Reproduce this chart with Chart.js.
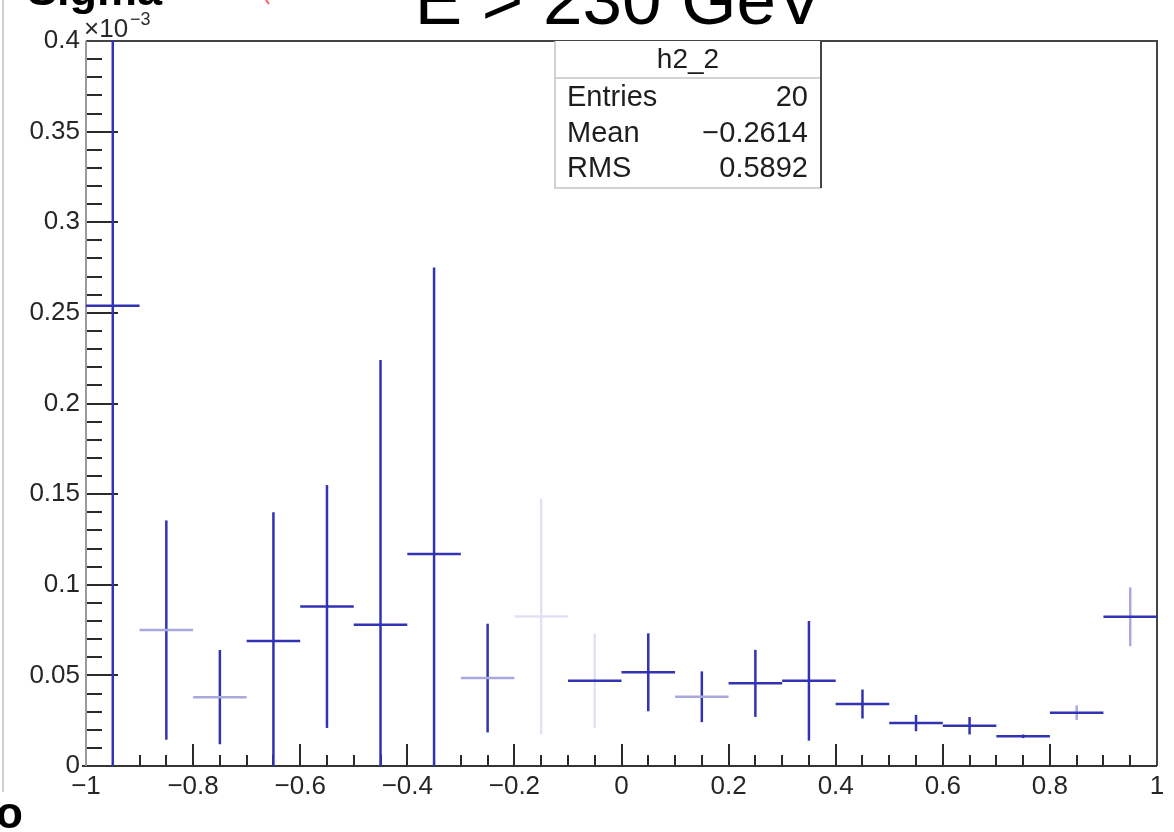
<!DOCTYPE html>
<html>
<head>
<meta charset="utf-8">
<script src="https://cdn.jsdelivr.net/npm/chart.js@4/dist/chart.umd.min.js"></script>
<style>
html,body{margin:0;padding:0;background:#fff;overflow:hidden}
canvas{display:block}
</style>
</head>
<body>
<canvas id="c" width="1174" height="832"></canvas>
<script>
// ---- data (y values in units of 1e-3) ----
const binEdges   = [-1,-0.9,-0.8,-0.7,-0.6,-0.5,-0.4,-0.3,-0.2,-0.1,0,0.1,0.2,0.3,0.4,0.5,0.6,0.7,0.8,0.9,1];
const binCenters = [-0.95,-0.85,-0.75,-0.65,-0.55,-0.45,-0.35,-0.25,-0.15,-0.05,0.05,0.15,0.25,0.35,0.45,0.55,0.65,0.75,0.85,0.95];
const values     = [0.254,0.075,0.038,0.069,0.088,0.078,0.117,0.0485,0.0825,0.047,0.0517,0.0382,0.0456,0.047,0.0342,0.0237,0.0222,0.0164,0.0294,0.0823];
const errors     = [0.30,0.0605,0.026,0.071,0.067,0.146,0.158,0.030,0.065,0.026,0.0215,0.014,0.0185,0.033,0.008,0.0045,0.0048,0.001,0.004,0.0162];
const xTickValues = [-1,-0.8,-0.6,-0.4,-0.2,0,0.2,0.4,0.6,0.8,1];
const xTickLabels = ['\u22121','\u22120.8','\u22120.6','\u22120.4','\u22120.2','0','0.2','0.4','0.6','0.8','1'];
const yTickValues = [0,0.05,0.1,0.15,0.2,0.25,0.3,0.35,0.4];
const yTickLabels = ['0','0.05','0.1','0.15','0.2','0.25','0.3','0.35','0.4'];
const statsTitle = 'h2_2';
const statsNames  = ['Entries','Mean','RMS'];
const statsValues = ['20','\u22120.2614','0.5892'];
const titleText = 'E > 230 GeV';
const yTitleText = 'Sigma';

// ---- style (kept apart from data): rendering intensity of each bin's strokes ----
const hStroke = ['s','f','f','s','s','s','s','f','g','s','s','f','s','s','s','s','s','s','s','s'];
const vStroke = ['s','s','s','s','s','s','s','s','g','g','s','s','s','s','s','s','s','s','f','f'];
const strokeColor = {s:'#3232b4', f:'#a9a9de', g:'#e1e1f4'};

const FONT = '"Liberation Sans", Arial, Helvetica, sans-serif';

const rootPlugin = {
  id: 'rootLook',
  beforeDatasetsDraw(chart) {
    const {ctx, chartArea: a, scales: {x, y}} = chart;
    ctx.save();
    ctx.strokeStyle = '#2a2a2a';
    ctx.lineWidth = 2;
    for (let i = 0; i <= 40; i++) {
      const py = Math.round(y.getPixelForValue(i * 0.01));
      const len = (i % 5 === 0) ? 32 : 16;
      ctx.beginPath(); ctx.moveTo(a.left, py); ctx.lineTo(a.left + len, py); ctx.stroke();
    }
    for (let i = 0; i <= 40; i++) {
      const px = Math.round(x.getPixelForValue(-1 + i * 0.05));
      const len = (i % 4 === 0) ? 22 : 11;
      ctx.beginPath(); ctx.moveTo(px, a.bottom); ctx.lineTo(px, a.bottom - len); ctx.stroke();
    }
    ctx.strokeStyle = '#444';
    ctx.lineWidth = 2;
    ctx.beginPath(); ctx.moveTo(a.left, a.top); ctx.lineTo(a.right, a.top); ctx.lineTo(a.right, a.bottom); ctx.stroke();
    ctx.strokeStyle = '#333';
    ctx.beginPath(); ctx.moveTo(a.left - 4, a.bottom); ctx.lineTo(a.right, a.bottom); ctx.stroke();
    ctx.strokeStyle = '#9a9a9a';
    ctx.beginPath(); ctx.moveTo(a.left, a.top); ctx.lineTo(a.left, a.bottom); ctx.stroke();
    ctx.restore();
  },
  afterDatasetsDraw(chart) {
    const {ctx, chartArea: a, scales: {x, y}} = chart;
    ctx.save();
    ctx.beginPath(); ctx.rect(a.left, a.top - 1, a.right - a.left, a.bottom - a.top + 1); ctx.clip();
    ctx.lineWidth = 2.5;
    for (let i = 0; i < values.length; i++) {
      const cx = x.getPixelForValue(binCenters[i]);
      const x0 = x.getPixelForValue(binEdges[i]);
      const x1 = x.getPixelForValue(binEdges[i + 1]);
      const py = y.getPixelForValue(values[i]);
      const yt = y.getPixelForValue(values[i] + errors[i]);
      const yb = y.getPixelForValue(Math.max(0, values[i] - errors[i]));
      ctx.strokeStyle = strokeColor[vStroke[i]];
      ctx.beginPath(); ctx.moveTo(cx, yt); ctx.lineTo(cx, yb); ctx.stroke();
      ctx.strokeStyle = strokeColor[hStroke[i]];
      ctx.beginPath(); ctx.moveTo(x0, py); ctx.lineTo(x1, py); ctx.stroke();
    }
    ctx.restore();
  },
  afterDraw(chart) {
    const {ctx, chartArea: a} = chart;
    ctx.save();
    ctx.strokeStyle = '#cfcfcf'; ctx.lineWidth = 2;
    ctx.beginPath(); ctx.moveTo(3, 0); ctx.lineTo(3, 792); ctx.stroke();
    ctx.strokeStyle = '#ff5a5a'; ctx.lineWidth = 2;
    ctx.beginPath(); ctx.moveTo(266, 0); ctx.lineTo(269, 4); ctx.stroke();

    // stats box
    const bx0 = 555, bx1 = 821, by0 = a.top, by1 = 188;
    ctx.fillStyle = '#fff';
    ctx.fillRect(bx0, by0, bx1 - bx0, by1 - by0);
    ctx.strokeStyle = '#c4c4c4'; ctx.lineWidth = 1.5;
    ctx.beginPath(); ctx.moveTo(bx0, by0); ctx.lineTo(bx0, by1); ctx.lineTo(bx1, by1); ctx.stroke();
    ctx.beginPath(); ctx.moveTo(bx0, 78); ctx.lineTo(bx1, 78); ctx.stroke();
    ctx.strokeStyle = '#444'; ctx.lineWidth = 2;
    ctx.beginPath(); ctx.moveTo(bx1, by0); ctx.lineTo(bx1, by1); ctx.stroke();
    ctx.fillStyle = '#1e1e1e';
    ctx.font = '28px ' + FONT;
    ctx.textBaseline = 'alphabetic';
    ctx.textAlign = 'center';
    ctx.fillText(statsTitle, (bx0 + bx1) / 2, 68);
    const rowBase = [106, 142, 177];
    ctx.font = '29px ' + FONT;
    for (let i = 0; i < statsNames.length; i++) {
      ctx.textAlign = 'left';
      ctx.fillText(statsNames[i], 567, rowBase[i]);
      ctx.textAlign = 'right';
      ctx.fillText(statsValues[i], 808, rowBase[i]);
    }

    // exponent label
    ctx.fillStyle = '#2a2a2a';
    ctx.textAlign = 'left';
    ctx.font = '26px ' + FONT;
    ctx.fillText('\u00d710', 84, 37);
    ctx.font = '18px ' + FONT;
    ctx.fillText('\u22123', 130, 25);

    ctx.fillStyle = '#000';
    ctx.textAlign = 'center';
    ctx.font = '71px ' + FONT;
    ctx.fillText(titleText, 619, 24);
    ctx.textAlign = 'left';
    ctx.font = 'bold 45px ' + FONT;
    ctx.fillText(yTitleText, 27, 5);
    ctx.font = 'bold 44px ' + FONT;
    ctx.fillText('o', -4, 828);
    ctx.restore();
  }
};

new Chart(document.getElementById('c'), {
  type: 'scatter',
  data: {
    datasets: [{
      data: binCenters.map((c, i) => ({x: c, y: values[i]})),
      pointRadius: 0,
      showLine: false,
      borderColor: '#3232b4'
    }]
  },
  options: {
    responsive: false,
    animation: false,
    devicePixelRatio: 1,
    layout: {padding: {top: 41, right: 17, left: 0, bottom: 0}},
    plugins: {legend: {display: false}, tooltip: {enabled: false}, title: {display: false}},
    scales: {
      x: {
        type: 'linear', min: -1, max: 1,
        afterFit(axis) { axis.height = 66; },
        afterBuildTicks(axis) { axis.ticks = xTickValues.map(v => ({value: v})); },
        grid: {display: false, drawTicks: false},
        border: {display: false},
        ticks: {
          autoSkip: false, maxRotation: 0, padding: 5, color: '#262626',
          font: {family: FONT, size: 26},
          callback: (v, i) => xTickLabels[i]
        }
      },
      y: {
        type: 'linear', min: 0, max: 0.4,
        afterFit(axis) { axis.width = 86; },
        afterBuildTicks(axis) { axis.ticks = yTickValues.map(v => ({value: v})); },
        grid: {display: false, drawTicks: false},
        border: {display: false},
        ticks: {
          autoSkip: false, padding: 6, color: '#262626',
          font: {family: FONT, size: 26},
          callback: (v, i) => yTickLabels[i]
        }
      }
    }
  },
  plugins: [rootPlugin]
});
</script>
</body>
</html>
